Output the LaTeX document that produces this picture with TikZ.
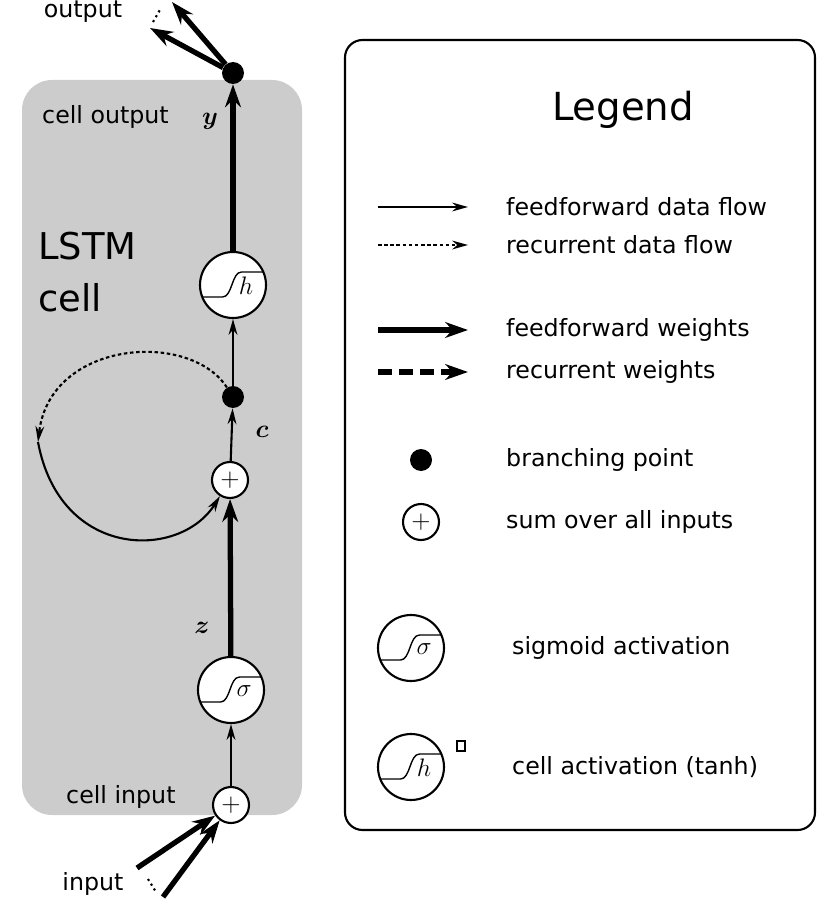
\documentclass[tikz,border=0pt]{standalone}
\usepackage{amsmath,amssymb,bm}
\usepackage{fontspec}
\setmainfont{DejaVu Sans}
\usetikzlibrary{arrows.meta, positioning}

\newcommand{\actcurve}[2]{% node name, letter
  \draw[thick] ([shift={(-0.61cm,-0.24cm)}]#1.center) -- ++(0.4cm,0)
    .. controls +(0.2cm,0) and +(-0.2cm,0) .. ++(0.38cm,0.5cm) -- ++(0.44cm,0);
  \node at ([shift={(0.26cm,-0.02cm)}]#1.center) {\Large$#2$};
}

\begin{document}
\begin{tikzpicture}[x=0.02cm, y=-0.02cm, >={Stealth[length=9pt,width=5pt]},
  thin flow/.style={->, line width=1.2pt},
  rec flow/.style={->, line width=1.2pt, dash pattern=on 2pt off 1.5pt},
  thick flow/.style={->, line width=3pt, >={Stealth[length=13pt,width=9pt]}},
  rec weight/.style={->, line width=3pt, dash pattern=on 8pt off 4pt, >={Stealth[length=13pt,width=9pt]}},
  branch/.style={circle, fill=black, inner sep=0pt, minimum size=0.44cm},
  sumnode/.style={circle, draw, line width=1.2pt, fill=white, inner sep=0pt, minimum size=0.72cm, font=\Large},
  act/.style={circle, draw, line width=1.2pt, fill=white, inner sep=0pt, minimum size=1.32cm},
  lbl/.style={font=\fontsize{13.5}{16}\selectfont, anchor=west},
  every node/.style={font=\fontsize{13.5}{16}\selectfont}]
\useasboundingbox (0,0) rectangle (830,902);

% cell
\fill[gray!40, rounded corners=0.6cm] (22,80) rectangle (302,815);
\node[branch] (y) at (233,73) {};
\node[act] (h) at (233,285) {};
\actcurve{h}{h}
\node[branch] (c) at (233,397) {};
\node[sumnode] (sum) at (230,480) {$+$};
\node[act] (g) at (231,690) {};
\actcurve{g}{\sigma}
\node[sumnode] (in) at (231,805) {$+$};

\node[anchor=west] at (36,117) {cell output};
\node at (210,121) {\Large$\bm{y}$};
\node[anchor=west, align=left, font=\fontsize{21}{30}\selectfont] at (32,272) {LSTM\\cell};
\node at (262,432) {\Large$\bm{c}$};
\node at (202,628) {\Large$\bm{z}$};
\node[anchor=west] at (60,797) {cell input};
\node at (93,884) {input};
\node at (83,12) {output};

% connections
\draw[thin flow] (in) -- (g);
\draw[thick flow] (g) -- (sum);
\draw[thin flow] (sum) -- (c);
\draw[thin flow] (c) -- (h);
\draw[thick flow] (h) -- (y);
\coordinate (o1) at (172,2);
\coordinate (o2) at (150,28);
\draw[thick flow] (y) -- (o1);
\draw[thick flow] (y) -- (o2);
\draw[dotted, line width=1.2pt] (153,22) -- (161,8);
\coordinate (i1) at (137,868);
\coordinate (i2) at (163,897);
\draw[thick flow] (i1) -- (in);
\draw[thick flow] (i2) -- (in);
\draw[dotted, line width=1.2pt] (148,879) -- (156,892);
\coordinate (loop) at (38,442);
\draw[rec flow] (c) .. controls (190,330) and (50,340) .. (loop);
\draw[thin flow] (loop) .. controls (60,560) and (180,560) .. (sum);

% legend
\draw[line width=1.2pt, rounded corners=0.35cm] (345,40) rectangle (815,830);
\node[font=\fontsize{22}{26}\selectfont] at (623,110) {Legend};
\coordinate (a1) at (378,207); \coordinate (b1) at (468,207);
\coordinate (a2) at (378,245); \coordinate (b2) at (468,245);
\coordinate (a3) at (378,330); \coordinate (b3) at (468,330);
\coordinate (a4) at (378,372); \coordinate (b4) at (468,372);
\draw[thin flow] (a1) -- (b1);
\draw[rec flow] (a2) -- (b2);
\draw[thick flow] (a3) -- (b3);
\draw[rec weight] (a4) -- (b4);
\node[lbl] at (500,207) {feedforward data flow};
\node[lbl] at (500,245) {recurrent data flow};
\node[lbl] at (500,330) {feedforward weights};
\node[lbl] at (500,372) {recurrent weights};
\node[branch] (lb) at (421,460) {};
\node[lbl] at (500,460) {branching point};
\node[sumnode] (ls) at (421,522) {$+$};
\node[lbl] at (500,522) {sum over all inputs};
\node[act] (lg) at (411,648) {};
\actcurve{lg}{\sigma}
\node[lbl] at (506,648) {sigmoid activation};
\node[act] (lh) at (411,767) {};
\actcurve{lh}{h}
\draw[line width=1pt, fill=white] (457,741) rectangle (465,751);
\node[lbl] at (506,767) {cell activation (tanh)};
\end{tikzpicture}
\end{document}
